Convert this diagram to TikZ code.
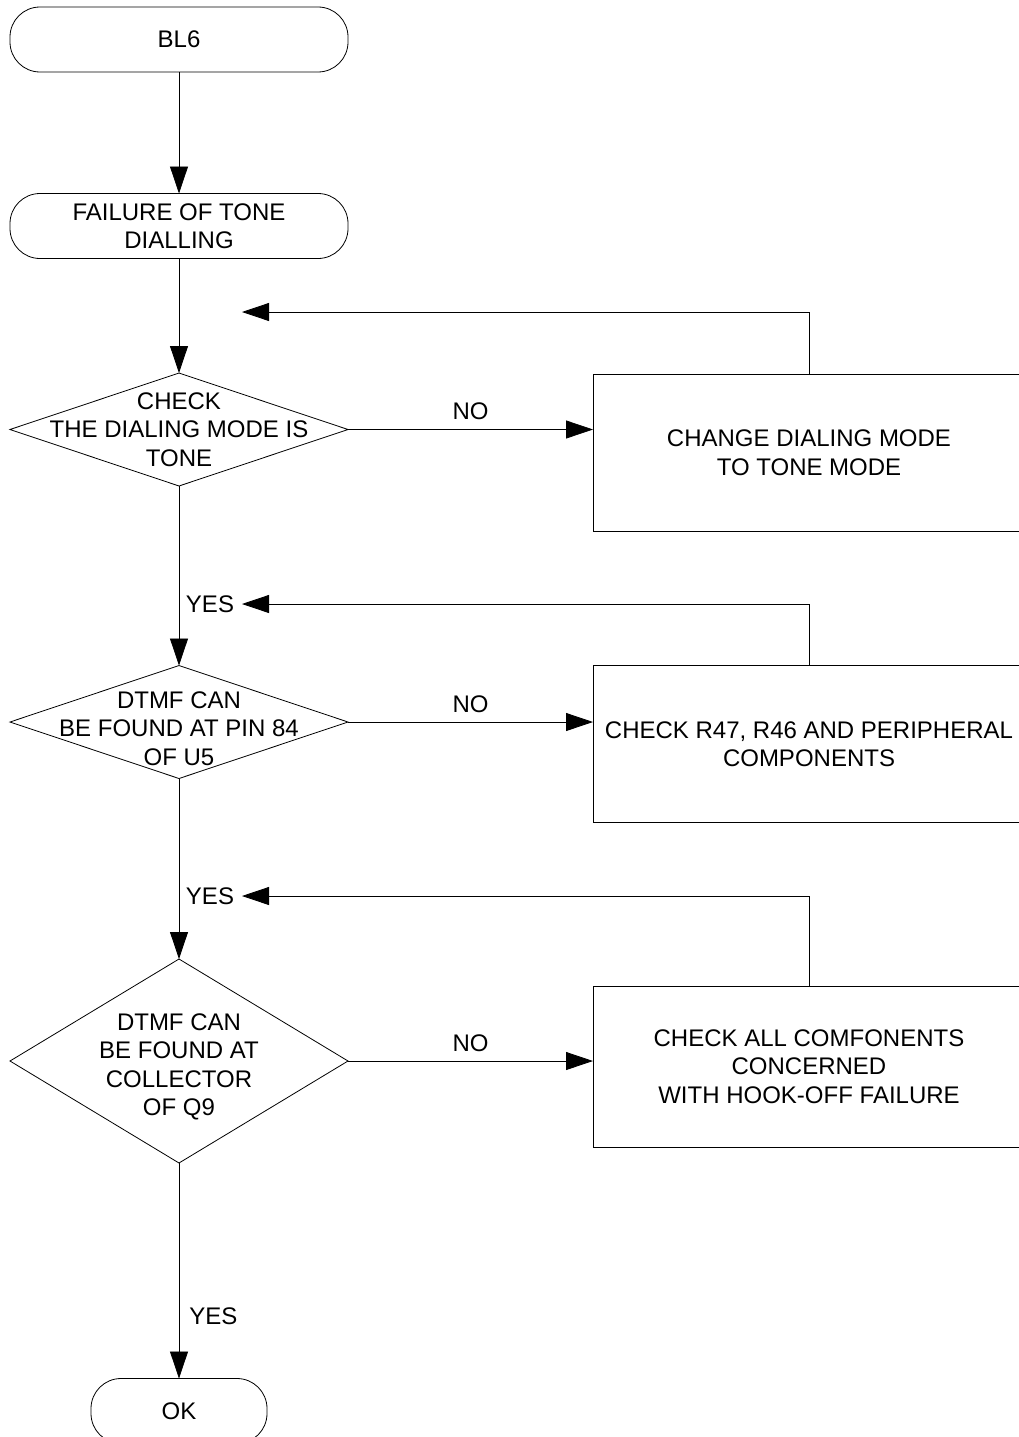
\documentclass[tikz,border=0pt]{standalone}
\usepackage{fontspec}
\setmainfont{Liberation Sans}
\usetikzlibrary{shapes.geometric,arrows.meta}

\begin{document}
\begin{tikzpicture}[x=1pt, y=-1pt, line width=0.8pt,
  every node/.style={font=\fontsize{24}{28.5}\selectfont, align=center},
  term/.style={draw, rounded corners=30pt, minimum width=338pt, minimum height=65pt, inner sep=0pt, outer sep=0pt},
  decision/.style={draw, diamond, minimum width=338pt, minimum height=113pt, inner sep=0pt, outer sep=0pt},
  action/.style={draw, rectangle, minimum width=432pt, minimum height=157pt, inner sep=0pt, outer sep=0pt},
  flow/.style={-{Triangle[length=27pt, width=18pt]}},
  lbl/.style={inner sep=0pt}]
\useasboundingbox (0,0) rectangle (1019,1437);
\node[term] (bl6) at (179,39.5) {BL6};
\node[term] (fail) at (179,226) {FAILURE OF TONE\\DIALLING};
\node[decision, label={center:{CHECK\\THE DIALING MODE IS\\TONE}}] (chk) at (179,429.5) {};
\node[decision, label={[yshift=-6.5pt]center:{DTMF CAN\\BE FOUND AT PIN 84\\OF U5}}] (pin) at (179,722) {};
\node[decision, minimum height=204pt, label={[yshift=-6pt]center:{DTMF CAN\\BE FOUND AT\\COLLECTOR\\OF Q9}}] (col) at (179,1061) {};
\node[action] (mode) at (809,452.5) {CHANGE DIALING MODE\\TO TONE MODE};
\node[action] (r47) at (809,744) {CHECK R47, R46 AND PERIPHERAL\\COMPONENTS};
\node[action, minimum height=161pt] (comp) at (809,1066.5) {CHECK ALL COMFONENTS\\CONCERNED\\WITH HOOK-OFF FAILURE};
\node[term, minimum width=176pt] (ok) at (179,1411) {OK};
% return points of the loops
\coordinate (back1) at (242,312);
\coordinate (back2) at (242,604);
\coordinate (back3) at (242,896);
\node[lbl] (yes1) at (210,604) {YES};
\node[lbl] (yes2) at (210,896) {YES};
\draw[flow] (bl6) -- (fail);
\draw[flow] (fail) -- (chk);
\draw[flow] (chk) -- (pin);
\draw[flow] (pin) -- (col);
\draw[flow] (col) -- node[lbl, pos=0.71, anchor=west, xshift=10pt] (yes3) {YES} (ok);
\draw[flow] (chk.east) -- node[lbl, above=9pt] (no1) {NO} (chk.east -| mode.west);
\draw[flow] (pin.east) -- node[lbl, above=9pt] (no2) {NO} (pin.east -| r47.west);
\draw[flow] (col.east) -- node[lbl, above=9pt] (no3) {NO} (col.east -| comp.west);
\draw[flow] (mode.north) |- (back1);
\draw[flow] (r47.north) |- (back2);
\draw[flow] (comp.north) |- (back3);
\end{tikzpicture}
\end{document}
